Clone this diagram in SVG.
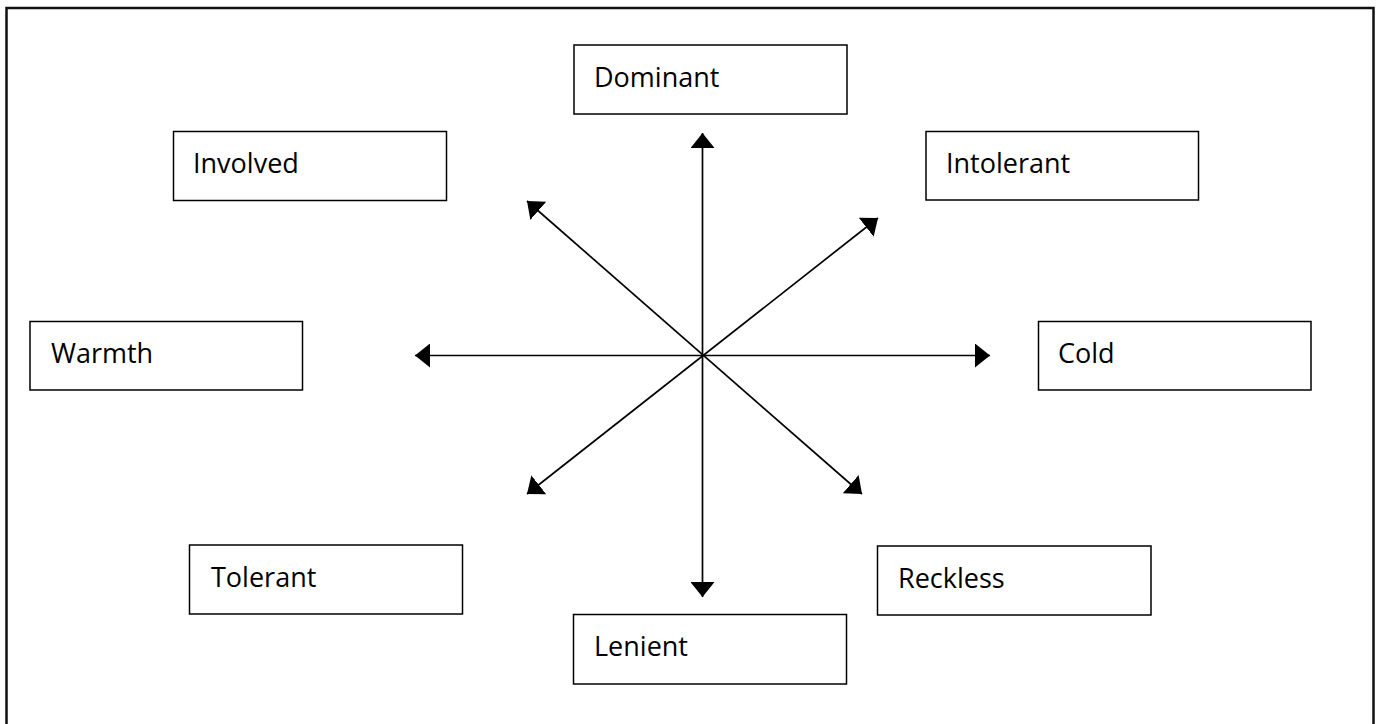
<svg xmlns="http://www.w3.org/2000/svg" width="1381" height="724" viewBox="0 0 1381 724">
  <style>
    .box { fill: #fff; stroke: #000; stroke-width: 1.5; }
    .label { font-family: "Open Sans", "Liberation Sans", sans-serif; font-size: 27px; fill: #000; }
    .axis { stroke: #000; stroke-width: 1.7; fill: none; marker-start: url(#head); marker-end: url(#head); }
  </style>
  <defs>
    <marker id="head" viewBox="0 0 15 24" refX="15" refY="12" markerWidth="15" markerHeight="24" markerUnits="userSpaceOnUse" orient="auto-start-reverse">
      <path d="M0,0 L15,12 L0,24 z" fill="#000"/>
    </marker>
  </defs>

  <rect width="1381" height="724" fill="#fff"/>
  <!-- page frame -->
  <rect x="6.5" y="8" width="1367" height="730" fill="none" stroke="#111" stroke-width="2.5"/>

  <!-- double-headed axes through the centre -->
  <g id="connectors">
    <line class="axis" x1="702.5" y1="133" x2="702.5" y2="597"/>
    <line class="axis" x1="415" y1="355.5" x2="990" y2="355.5"/>
    <line class="axis" x1="527" y1="201" x2="862" y2="494"/>
    <line class="axis" x1="878" y1="218" x2="527" y2="494"/>
  </g>

  <g id="dominant">
    <rect class="box" x="574" y="45" width="273" height="69"/>
    <text class="label" x="594" y="87">Dominant</text>
  </g>
  <g id="involved">
    <rect class="box" x="173.5" y="131.5" width="273" height="69"/>
    <text class="label" x="193" y="173">Involved</text>
  </g>
  <g id="intolerant">
    <rect class="box" x="926" y="131.5" width="272.5" height="68.5"/>
    <text class="label" x="946" y="173">Intolerant</text>
  </g>
  <g id="warmth">
    <rect class="box" x="30" y="321.5" width="272.5" height="68.5"/>
    <text class="label" x="51" y="363">Warmth</text>
  </g>
  <g id="cold">
    <rect class="box" x="1038.5" y="321.5" width="272.5" height="68.5"/>
    <text class="label" x="1058" y="363">Cold</text>
  </g>
  <g id="tolerant">
    <rect class="box" x="189.5" y="545" width="273" height="69"/>
    <text class="label" x="211" y="587">Tolerant</text>
  </g>
  <g id="reckless">
    <rect class="box" x="877.5" y="546" width="273.5" height="69"/>
    <text class="label" x="898" y="588">Reckless</text>
  </g>
  <g id="lenient">
    <rect class="box" x="573.5" y="614.5" width="273" height="69.5"/>
    <text class="label" x="594" y="656">Lenient</text>
  </g>
</svg>
